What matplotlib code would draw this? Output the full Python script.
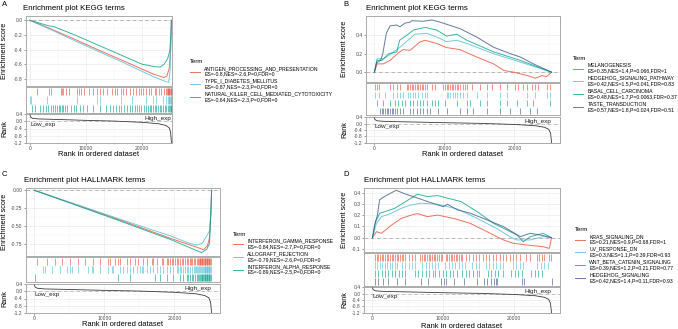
import matplotlib
matplotlib.use("Agg")
import matplotlib.pyplot as plt
from matplotlib.lines import Line2D

W, H = 678, 329
plt.rcParams['font.family'] = ['Liberation Sans', 'DejaVu Sans']
plt.rcParams['axes.unicode_minus'] = False

# ---------------- colours ----------------
RED, CYAN, GREEN, NAVY = '#E64B35', '#4DBBD5', '#00A087', '#3C5488'

# ---------------- shared ranked-list metric ----------------
rank_metric_x = [0, 100, 400, 1500, 5000, 10000, 15000, 20000, 23000, 24300, 24900, 25150, 25300]
rank_metric_y = [0.36, 0.25, 0.18, 0.14, 0.11, 0.06, 0.02, -0.05, -0.13, -0.23, -0.36, -0.6, -1.2]
rank_ticks = [0.4, 0.0, -0.4, -0.8, -1.2]
rank_ticklabels = ['0.4', '0.0', '-0.4', '-0.8', '-1.2']
x_ticks = [0, 10000, 20000]
x_ticklabels = ['0', '10000', '20000']

# ---------------- Panel A ----------------
A_title = 'Enrichment plot KEGG terms'
A_terms = ['ANTIGEN_PROCESSING_AND_PRESENTATION', 'TYPE_I_DIABETES_MELLITUS',
           'NATURAL_KILLER_CELL_MEDIATED_CYTOTOXICITY']
A_stats = ['ES=-0.8,NES=-2.6,P=0,FDR=0', 'ES=-0.87,NES=-2.3,P=0,FDR=0',
           'ES=-0.64,NES=-2.3,P=0,FDR=0']
A_es_x = [[0, 3500, 8000, 12500, 17000, 22000, 24000, 24500, 24900, 25150, 25300],
          [0, 3500, 8000, 12500, 17000, 22000, 24000, 24800, 25050, 25200, 25300],
          [0, 3300, 4200, 8000, 12500, 17000, 20000, 22300, 23300, 24000, 24600, 25000, 25200, 25300]]
A_es_y = [[0, -0.11, -0.26, -0.415, -0.565, -0.735, -0.785, -0.76, -0.66, -0.4, 0],
          [0, -0.12, -0.28, -0.435, -0.59, -0.77, -0.83, -0.85, -0.7, -0.3, 0],
          [0, -0.075, -0.085, -0.2, -0.35, -0.5, -0.6, -0.635, -0.64, -0.6, -0.53, -0.42, -0.2, 0]]
A_hits = [
    [1200, 3400, 3700, 5500, 5700, 5950, 6400, 6900, 8400, 8700, 9100, 9700, 10600, 11300, 11900,
     12500, 13000, 13800, 14600, 15200, 15600, 16200, 16700, 17100, 17800, 18500, 19000, 19500,
     19900, 20300, 20800, 21300, 21700, 22300, 22600, 23100, 23500, 23900, 24300, 24500, 24650,
     24750, 24850, 24950, 25050, 25150, 25250],
    [0, 150, 3000, 8400, 11900, 12500, 16200, 18200, 20800, 22000, 22600, 23800, 24400, 24700,
     24850, 24950, 25050, 25150, 25250],
    [300, 900, 1800, 2260, 2860, 3270, 3690, 4170, 4460, 4880, 5120, 5360, 5650, 5950, 6250, 6550,
     7260, 7850, 8210, 8930, 9520, 10230, 11300, 12500, 13570, 14280, 14760, 15470, 15950, 16360,
     16780, 17370, 17850, 18330, 18740, 19160, 19520, 19930, 20350, 20830, 21120, 21420, 21720,
     22010, 22310, 22610, 22910, 23200, 23500, 23800, 24100, 24400, 24700, 24850, 25000, 25150, 25250]]
A_es_ticks = [0.0, -0.2, -0.4, -0.6, -0.8]
A_es_ticklabels = ['0.0', '-0.2', '-0.4', '-0.6', '-0.8']

# ---------------- Panel B ----------------
B_title = 'Enrichment plot KEGG terms'
B_terms = ['MELANOGENESIS', 'HEDGEHOG_SIGNALING_PATHWAY', 'BASAL_CELL_CARCINOMA', 'TASTE_TRANSDUCTION']
B_stats = ['ES=0.35,NES=1.4,P=0.066,FDR=1', 'ES=0.42,NES=1.5,P=0.041,FDR=0.83',
           'ES=0.48,NES=1.7,P=0.0063,FDR=0.37', 'ES=0.57,NES=1.8,P=0.024,FDR=0.51']
B_es_x = [[0, 380, 1300, 2240, 3400, 4100, 5100, 6500, 7240, 8900, 10300, 12200, 14600, 17000,
           18500, 19900, 21800, 23000, 23900, 24600, 25300],
          [0, 380, 1300, 2040, 3650, 4800, 5800, 7470, 8900, 10300, 11750, 13200, 17000, 20800, 25300],
          [0, 380, 1090, 2040, 3200, 3600, 4640, 5580, 7240, 8900, 10300, 11750, 13200, 17000, 20800, 25300],
          [0, 300, 900, 1200, 1700, 2240, 3170, 3650, 4360, 5100, 5330, 7000, 8200, 9400, 12240,
           14600, 17000, 19400, 20800, 22700, 25300]]
B_es_y = [[0, 0.09, 0.09, 0.128, 0.207, 0.244, 0.236, 0.327, 0.345, 0.31, 0.266, 0.244, 0.164, 0.09,
           0.018, 0.0, -0.036, -0.065, -0.036, -0.047, 0],
          [0, 0.145, 0.145, 0.18, 0.27, 0.345, 0.41, 0.42, 0.38, 0.33, 0.345, 0.31, 0.2, 0.11, 0],
          [0, 0.128, 0.128, 0.2, 0.22, 0.345, 0.4, 0.455, 0.484, 0.455, 0.39, 0.41, 0.345, 0.22, 0.128, 0],
          [0, 0.1, 0.13, 0.2, 0.42, 0.5, 0.51, 0.49, 0.53, 0.54, 0.556, 0.55, 0.564, 0.54, 0.47,
           0.38, 0.27, 0.2, 0.165, 0.09, 0]]
B_hits = [
    [100, 330, 710, 2240, 2700, 3200, 3600, 4620, 4860, 5090, 5330, 5570, 5810, 6050, 6280, 6520,
     6760, 7000, 7240, 7470, 8190, 8660, 9850, 10090, 10330, 10570, 10810, 11040, 11280, 11520,
     11760, 12000, 12230, 12610, 12950, 13190, 13900, 15090, 16040, 16760, 17950, 18900, 20090,
     20560, 21280, 21750, 22470, 22940, 23420, 24610, 25090],
    [100, 710, 1520, 2710, 3190, 3670, 4140, 4860, 5090, 5570, 5810, 6280, 6760, 7240, 7470, 10330,
     10570, 10810, 11190, 11520, 11760, 12230, 12710, 13190, 14610, 16040, 17950, 18900, 21750,
     22940, 24610, 25090],
    [330, 1290, 2240, 2950, 3430, 3900, 4380, 5090, 5570, 6050, 6520, 7000, 7470, 8190, 8660, 9140,
     10090, 11760, 13190, 13660, 15090, 16040, 17950, 18900, 20330, 21750, 22710, 25090],
    [810, 1050, 1290, 1520, 1760, 2000, 2240, 2480, 2710, 2950, 3190, 3670, 4140, 5090, 5570, 6050,
     6520, 7000, 7470, 7950, 9140, 10330, 12230, 13190, 14140, 16040, 17950, 19370, 20800, 22230, 23180]]
B_es_ticks = [0.0, 0.2, 0.4]
B_es_ticklabels = ['0.0', '0.2', '0.4']

# ---------------- Panel C ----------------
C_title = 'Enrichment plot HALLMARK terms'
C_terms = ['INTERFERON_GAMMA_RESPONSE', 'ALLOGRAFT_REJECTION', 'INTERFERON_ALPHA_RESPONSE']
C_stats = ['ES=-0.84,NES=-2.7,P=0,FDR=0', 'ES=-0.79,NES=-2.6,P=0,FDR=0', 'ES=-0.89,NES=-2.5,P=0,FDR=0']
C_es_x = [[0, 12200, 19400, 23200, 24150, 24700, 25000, 25200, 25300],
          [0, 12200, 19400, 22000, 23200, 24000, 24600, 25000, 25200, 25300],
          [0, 12200, 19400, 23000, 23900, 24600, 25000, 25200, 25300]]
C_es_y = [[0, -0.417, -0.674, -0.8, -0.835, -0.78, -0.67, -0.33, 0],
          [0, -0.405, -0.64, -0.74, -0.77, -0.74, -0.64, -0.57, -0.3, 0],
          [0, -0.43, -0.69, -0.84, -0.875, -0.83, -0.75, -0.3, 0]]
C_hits = [
    [330, 1760, 2950, 3900, 5090, 6280, 7240, 8430, 9380, 10570, 10810, 11520, 12000, 12230, 13190,
     13660, 14380, 14850, 15570, 16040, 16760, 16990, 17470, 18180, 18420, 18900, 19140, 19370,
     19610, 19850, 20090, 20330, 20560, 20800, 21040, 21280, 21520, 21750, 21950, 22150, 22350,
     22550, 22750, 22950, 23150, 23350, 23500, 23600, 23700, 23800, 23900, 24000, 24100, 24200,
     24300, 24400, 24500, 24600, 24700, 24800, 24900, 25000, 25100, 25200],
    [1290, 1520, 2480, 3670, 4620, 5090, 5330, 6280, 7710, 8190, 8430, 9380, 10570, 11040, 11280,
     12230, 12710, 13190, 13660, 14140, 14610, 15090, 15330, 15570, 16040, 16520, 16990, 17470,
     17950, 18420, 18900, 19370, 19850, 20330, 20560, 20800, 21000, 21250, 21500, 21750, 22000,
     22250, 22500, 22750, 22950, 23100, 23250, 23400, 23550, 23700, 23850, 24000, 24100, 24200,
     24300, 24400, 24500, 24600, 24700, 24800, 24900, 25000, 25100, 25200],
    [100, 12000, 13660, 17230, 17950, 18900, 19850, 20800, 21280, 21750, 21990, 22230, 22470, 22710,
     22940, 23180, 23400, 23550, 23700, 23800, 23900, 24000, 24100, 24200, 24300, 24400, 24500,
     24600, 24700, 24800, 24900, 25000, 25100, 25200]]
C_es_ticks = [0.0, -0.25, -0.5, -0.75]
C_es_ticklabels = ['0.00', '-0.25', '-0.50', '-0.75']

# ---------------- Panel D ----------------
D_title = 'Enrichment plot HALLMARK terms'
D_terms = ['KRAS_SIGNALING_DN', 'UV_RESPONSE_DN', 'WNT_BETA_CATENIN_SIGNALING', 'HEDGEHOG_SIGNALING']
D_stats = ['ES=0.21,NES=0.9,P=0.68,FDR=1', 'ES=0.3,NES=1.1,P=0.39,FDR=0.93',
           'ES=0.39,NES=1.2,P=0.21,FDR=0.77', 'ES=0.42,NES=1.4,P=0.11,FDR=0.93']
D_es_x = [[0, 560, 1260, 2660, 4060, 5460, 6370, 7770, 9200, 11500, 13800, 16200, 18500, 19900,
           21800, 24100, 25000, 25300],
          [0, 560, 1260, 2660, 4060, 5460, 6860, 9200, 10600, 12000, 14800, 17600, 19400, 20400,
           22300, 24100, 25300],
          [0, 420, 1030, 1730, 3130, 4300, 5460, 6370, 7770, 9200, 10600, 12500, 14800, 17100, 19000,
           20400, 21300, 22300, 24100, 25300],
          [0, 300, 700, 1000, 1700, 2450, 3350, 4500, 6400, 9200, 10000, 10600, 12000, 13800, 16200,
           18500, 20900, 21600, 22300, 23700, 25300]]
D_es_y = [[0, 0.053, 0.038, 0.11, 0.17, 0.2, 0.213, 0.186, 0.2, 0.17, 0.127, 0.053, -0.02, -0.05,
           -0.065, -0.08, -0.095, 0],
          [0, 0.127, 0.186, 0.216, 0.26, 0.29, 0.305, 0.296, 0.275, 0.254, 0.17, 0.08, 0.009, -0.02,
           -0.02, 0.009, 0],
          [0, 0.14, 0.216, 0.23, 0.26, 0.305, 0.35, 0.385, 0.364, 0.373, 0.35, 0.32, 0.23, 0.127, 0.068,
           0.024, -0.036, 0.009, 0.038, 0],
          [0, 0.11, 0.2, 0.335, 0.365, 0.39, 0.42, 0.39, 0.35, 0.29, 0.275, 0.296, 0.246, 0.217, 0.157,
           0.098, 0.009, 0.024, 0.038, 0.024, 0]]
D_hits = [
    [330, 570, 810, 1050, 1290, 1520, 1760, 2000, 2240, 2480, 2710, 2950, 3190, 3430, 3670, 3900,
     4140, 4380, 4620, 5090, 5570, 6050, 6760, 7000, 7240, 7470, 7710, 7950, 8190, 8430, 8660, 8900,
     9140, 9380, 9620, 9850, 10330, 10570, 10810, 11040, 11280, 11520, 11760, 12000, 12230, 12470,
     12710, 13190, 13660, 14140, 14610, 15090, 15570, 16040, 16520, 16990, 17470, 17950, 18420,
     18900, 19370, 19850, 20330, 20800, 21750, 22230, 23180, 23500, 23900, 24300, 25000, 25250],
    [330, 700, 1050, 1400, 1750, 2100, 2450, 2800, 3150, 3500, 4100, 4600, 5100, 5600, 6000, 7000,
     7500, 8000, 8400, 8800, 9200, 10300, 10800, 11200, 11700, 12200, 12700, 13100, 14100, 14600,
     15100, 16000, 16500, 17000, 17500, 18000, 18500, 19800, 20300, 20800, 21300, 23300, 23800,
     24300, 24800],
    [330, 800, 1300, 1700, 2200, 2700, 3200, 3700, 4200, 4600, 6000, 6500, 7000, 7500, 8000, 8500,
     8900, 9400, 9900, 10400, 10900, 11400, 11900, 12700, 13200, 13700, 14200, 14700, 15100, 16300,
     16800, 17300, 17800, 18400, 19600, 20100, 20600, 21100, 22400, 22900, 23400, 23900],
    [330, 800, 1500, 2200, 3400, 4550, 6900, 7800, 9700, 10150, 10400, 11550, 12950, 14800, 15750,
     16200, 16700, 17150, 17400, 17600, 21100, 21350, 25300]]
D_es_ticks = [0.4, 0.3, 0.2, 0.1, 0.0, -0.1]
D_es_ticklabels = ['0.4', '0.3', '0.2', '0.1', '0.0', '-0.1']

# ---------------- layout (pixel boxes) ----------------
fig = plt.figure(figsize=(W / 100, H / 100), dpi=100)
FRAME = '#ababab'
GRID = '#ebebeb'
TXT = '#4d4d4d'


def px_axes(x0, y0, x1, y1):
    return fig.add_axes([x0 / W, 1 - y1 / H, (x1 - x0) / W, (y1 - y0) / H])


def style(ax):
    for s in ax.spines.values():
        s.set_color(FRAME)
        s.set_linewidth(0.7)
    ax.tick_params(axis='both', which='major', labelsize=3.6, colors=TXT,
                   length=1.5, width=0.4, pad=1)
    ax.tick_params(which='minor', length=0)
    ax.grid(True, which='major', color=GRID, lw=0.5)
    ax.grid(True, which='minor', color='#f4f4f4', lw=0.35)
    ax.set_axisbelow(True)


def ftext(x, y, s, **kw):
    fig.text(x / W, 1 - y / H, s, **kw)


def panel(letter, title, terms, stats, es_x, es_y, hits, colors, es_ticks, es_ticklabels,
          es_ylim, xlim, boxes, letter_xy, title_xy, ylab_x, xlab_y, legend_xy):
    es_box, hit_box, rank_box = boxes
    # --- running enrichment score ---
    ax1 = px_axes(*es_box)
    style(ax1)
    ax1.axhline(0, color='#a0a0a0', lw=0.5, ls=(0, (5, 4)), zorder=1)
    for xs, ys, c in zip(es_x, es_y, colors):
        ax1.plot(xs, ys, color=c, lw=0.7, alpha=0.78, zorder=3)
    ax1.set_xlim(xlim)
    ax1.set_ylim(es_ylim)
    ax1.set_xticks(x_ticks)
    ax1.set_xticks([5000, 15000, 25000], minor=True)
    ax1.tick_params(axis='x', which='both', labelbottom=False, length=0)
    ax1.set_yticks(es_ticks)
    ax1.set_yticklabels(es_ticklabels)
    step = abs(es_ticks[1] - es_ticks[0])
    ax1.set_yticks([t - step / 2 for t in es_ticks] + [es_ticks[0] + step / 2], minor=True)
    ax1.set_ylim(es_ylim)

    # --- hit positions ---
    ax2 = px_axes(*hit_box)
    for s in ax2.spines.values():
        s.set_color(FRAME)
        s.set_linewidth(0.7)
    n = len(hits)
    for i, (h, c) in enumerate(zip(hits, colors)):
        ax2.vlines(h, n - i - 1 + 0.08, n - i - 0.08, color=c, lw=0.7, alpha=0.6)
    ax2.set_xlim(xlim)
    ax2.set_ylim(0, n)
    ax2.set_xticks([])
    ax2.set_yticks([])

    # --- ranked list metric ---
    ax3 = px_axes(*rank_box)
    style(ax3)
    ax3.axhline(0, color='#b0b0b0', lw=0.5, ls=(0, (5, 4)), zorder=1)
    ax3.plot(rank_metric_x, rank_metric_y, color='#3a3a3a', lw=0.6, zorder=3)
    ax3.set_xlim(xlim)
    ax3.set_ylim(-1.22, 0.42)
    ax3.set_yticks(rank_ticks)
    ax3.set_yticklabels(rank_ticklabels)
    ax3.set_yticks([0.2, -0.2, -0.6, -1.0], minor=True)
    ax3.set_xticks(x_ticks)
    ax3.set_xticklabels(x_ticklabels)
    ax3.set_xticks([5000, 15000, 25000], minor=True)
    ax3.text(rank_metric_x[-1], 0.15, 'High_exp', ha='right', va='center', fontsize=4.6, color='#222222')
    ax3.text(0, -0.19, 'Low_exp', ha='left', va='center', fontsize=4.6, color='#222222')

    # --- texts ---
    ftext(*letter_xy, letter, ha='left', va='center', fontsize=5.5)
    ftext(*title_xy, title, ha='left', va='center', fontsize=5.7)
    ftext(ylab_x, (es_box[1] + es_box[3]) / 2, 'Enrichment score', rotation=90,
          ha='center', va='center', fontsize=5.2)
    ftext(ylab_x, (rank_box[1] + rank_box[3]) / 2, 'Rank', rotation=90,
          ha='center', va='center', fontsize=5.2)
    ftext((es_box[0] + es_box[2]) / 2, xlab_y, 'Rank in ordered dataset',
          ha='center', va='center', fontsize=5.4)

    # --- legend ---
    handles = [Line2D([], [], color=c, lw=0.7, alpha=0.78) for c in colors]
    labels = [f'{t}\n{s}' for t, s in zip(terms, stats)]
    fig.legend(handles, labels, title='Term', loc='upper left',
               bbox_to_anchor=(legend_xy[0] / W, 1 - legend_xy[1] / H),
               frameon=False, fontsize=3.7, title_fontsize=4.3, handlelength=2.0,
               handletextpad=0.8, labelspacing=0.38, borderpad=0, borderaxespad=0,
               alignment='left')


panel('A', A_title, A_terms, A_stats, A_es_x, A_es_y, A_hits, [RED, CYAN, GREEN],
      A_es_ticks, A_es_ticklabels, (-0.9, 0.059), (-720, 25400),
      [(26, 16, 172, 86), (26, 87, 172, 113), (26, 114, 172, 143)],
      (2, 4), (22.5, 8.5), 5, 154.5, (190, 59))

panel('B', B_title, B_terms, B_stats, B_es_x, B_es_y, B_hits, [RED, CYAN, GREEN, NAVY],
      B_es_ticks, B_es_ticklabels, (-0.106, 0.607), (-1200, 26500),
      [(366, 16, 560, 82), (366, 83, 560, 115), (366, 117, 560, 143)],
      (343, 4), (366, 8.5), 345, 155, (573, 56))

panel('C', C_title, C_terms, C_stats, C_es_x, C_es_y, C_hits, [RED, CYAN, GREEN],
      C_es_ticks, C_es_ticklabels, (-0.923, 0.032), (-1200, 26500),
      [(26, 188, 220, 256), (26, 257, 220, 282), (26, 284, 220, 313)],
      (2, 175), (24, 180), 5, 325, (233, 231.5))

panel('D', D_title, D_terms, D_stats, D_es_x, D_es_y, D_hits, [RED, CYAN, GREEN, NAVY],
      D_es_ticks, D_es_ticklabels, (-0.127, 0.44), (-1200, 26500),
      [(364, 188, 560, 252), (364, 253, 560, 286), (364, 287, 560, 313)],
      (343, 175), (364, 180), 345, 326.5, (575, 227))

fig.savefig('out.png', dpi=100)
